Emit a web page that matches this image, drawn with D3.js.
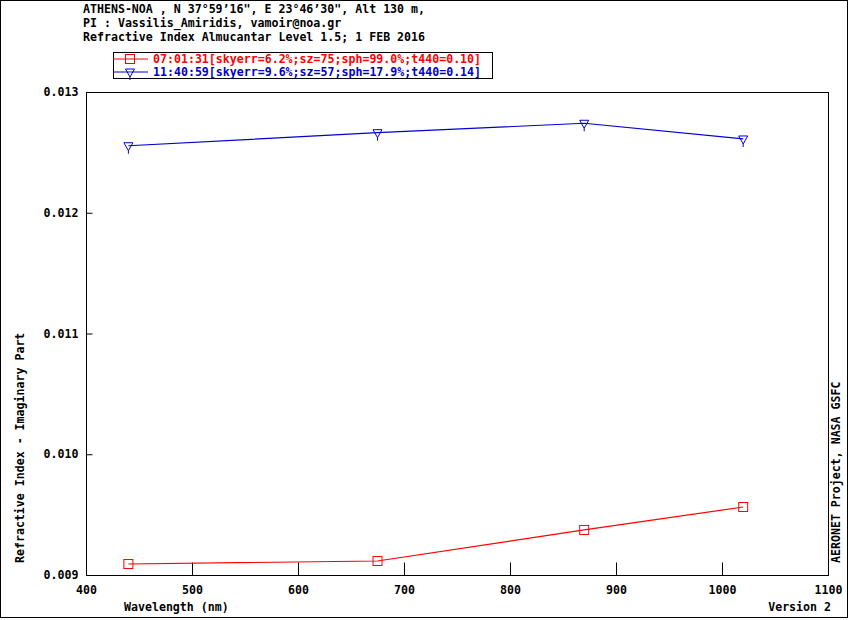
<!DOCTYPE html>
<html>
<head>
<meta charset="utf-8">
<script src="https://cdn.jsdelivr.net/npm/d3@7"></script>
<style>
body { margin: 0; background: #fff; }
text { font-family: "DejaVu Sans Mono", monospace; font-weight: bold; font-size: 11.6px; }
</style>
</head>
<body>
<script>
/* AERONET refractive index (imaginary part) chart */

var wavelengths = [440, 675, 870, 1020];
var morning = [0.009091, 0.009116, 0.009373, 0.009563];
var noon = [0.012555, 0.012663, 0.012741, 0.012611];
var seriesNames = [
    "07:01:31[skyerr=6.2%;sz=75;sph=99.0%;t440=0.10]",
    "11:40:59[skyerr=9.6%;sz=57;sph=17.9%;t440=0.14]"
];
var xTicks = [400, 500, 600, 700, 800, 900, 1000, 1100];
var yTicks = [0.009, 0.010, 0.011, 0.012, 0.013];
var header = [
    "ATHENS-NOA , N 37\u00b059\u201916\", E 23\u00b046\u201930\", Alt 130 m,",
    "PI : Vassilis_Amiridis, vamoir@noa.gr",
    "Refractive Index Almucantar Level 1.5; 1 FEB 2016"
];

var W = 850, H = 620;
var pLeft = 86, pRight = 828, pTop = 92, pBottom = 575;

var svg = d3.select("body").append("svg")
    .attr("width", W)
    .attr("height", H);

svg.append("rect")
    .attr("x", 0.5).attr("y", 0.5)
    .attr("width", W - 3).attr("height", H - 3)
    .attr("fill", "white").attr("stroke", "black");

var x = d3.scaleLinear().domain([400, 1100]).range([pLeft, pRight]);
var y = d3.scaleLinear().domain([0.009, 0.013]).range([pBottom, pTop]);

// header lines
svg.selectAll(".hdr")
    .data(header)
    .enter()
    .append("text")
    .attr("x", 83)
    .attr("y", function(d, i) { return 13 + i * 14; })
    .text(function(d) { return d; });

// plot frame
svg.append("rect")
    .attr("x", pLeft + 0.5).attr("y", pTop + 0.5)
    .attr("width", pRight - pLeft).attr("height", pBottom - pTop)
    .attr("fill", "none").attr("stroke", "black");

// x axis, ticks pointing inward
var xAxis = svg.append("g")
    .attr("transform", "translate(0," + (pBottom + 0.5) + ")")
    .call(d3.axisBottom(x).tickValues(xTicks).tickSizeInner(-13).tickSizeOuter(0).tickPadding(10)
        .tickFormat(d3.format("d")));
xAxis.select(".domain").remove();
xAxis.selectAll("text").attr("fill", "black").style("font-size", "11.6px");
xAxis.selectAll("line").attr("stroke", "black");

var yAxis = svg.append("g")
    .attr("transform", "translate(" + (pLeft + 0.5) + ",0)")
    .call(d3.axisLeft(y).tickValues(yTicks).tickSizeInner(-6).tickSizeOuter(0).tickPadding(8)
        .tickFormat(d3.format(".3f")));
yAxis.select(".domain").remove();
yAxis.selectAll("text").attr("fill", "black").style("font-size", "11.6px");
yAxis.selectAll("line").attr("stroke", "black");

// axis titles
svg.append("text")
    .attr("x", 124).attr("y", 611)
    .text("Wavelength (nm)");
svg.append("text")
    .attr("x", 831).attr("y", 611)
    .attr("text-anchor", "end")
    .text("Version 2");
svg.append("text")
    .attr("transform", "translate(24,563) rotate(-90)")
    .text("Refractive Index - Imaginary Part");
svg.append("text")
    .attr("transform", "translate(840,563) rotate(-90)")
    .text("AERONET Project, NASA GSFC");

var line = d3.line()
    .x(function(d) { return x(d[0]); })
    .y(function(d) { return y(d[1]); });

var series = [
    { name: seriesNames[0], values: d3.zip(wavelengths, morning), color: "#ff0000", marker: "square" },
    { name: seriesNames[1], values: d3.zip(wavelengths, noon), color: "#0000cc", marker: "tri" }
];

function drawMarker(g, cx, cy, s) {
    if (s.marker == "square") {
        g.append("rect")
            .attr("x", cx - 4.5).attr("y", cy - 4.5)
            .attr("width", 9).attr("height", 9)
            .attr("fill", "none").attr("stroke", s.color);
    } else {
        g.append("path")
            .attr("d", "M" + (cx - 4.5) + "," + (cy - 3) + "L" + (cx + 4.5) + "," + (cy - 3) +
                "L" + cx + "," + (cy + 5) + "Z M" + cx + "," + (cy + 5) + "L" + cx + "," + (cy + 8))
            .attr("fill", "none").attr("stroke", s.color);
    }
}

series.forEach(function(s) {
    var g = svg.append("g");
    g.append("path")
        .datum(s.values)
        .attr("d", line)
        .attr("fill", "none")
        .attr("stroke", s.color)
        .attr("stroke-width", 1.2);
    s.values.forEach(function(d) {
        drawMarker(g, x(d[0]), y(d[1]), s);
    });
});

// legend
svg.append("rect")
    .attr("x", 113.5).attr("y", 52.5)
    .attr("width", 379).attr("height", 26)
    .attr("fill", "white").attr("stroke", "black");

series.forEach(function(s, i) {
    var ly = 59 + i * 13;
    var g = svg.append("g");
    g.append("line")
        .attr("x1", 113).attr("x2", 148)
        .attr("y1", ly).attr("y2", ly)
        .attr("stroke", s.color);
    drawMarker(g, 130, ly, s);
    g.append("text")
        .attr("x", 153).attr("y", ly + 4)
        .attr("fill", s.color)
        .text(s.name);
});
</script>
</body>
</html>
